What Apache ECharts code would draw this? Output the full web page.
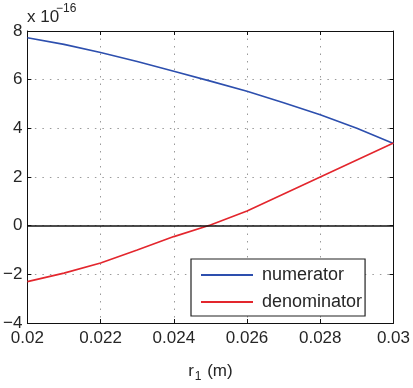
<!DOCTYPE html>
<html>
<head>
<meta charset="utf-8">
<script src="https://cdn.jsdelivr.net/npm/echarts@6/dist/echarts.min.js"></script>
<style>html,body{margin:0;padding:0;background:#fff}#c{width:413px;height:388px}</style>
</head>
<body>
<div id="c"></div>
<script>
// r_1 values (m)
const xValues = [0.020, 0.021, 0.022, 0.023, 0.024, 0.025, 0.026, 0.027, 0.028, 0.029, 0.030];
// values in units of 1e-16
const numerator   = [7.72, 7.45, 7.12, 6.75, 6.35, 5.94, 5.52, 5.05, 4.56, 4.00, 3.38];
const denominator = [-2.30, -1.95, -1.53, -1.00, -0.45, 0.03, 0.60, 1.30, 2.00, 2.70, 3.40];
const seriesNames = ['numerator', 'denominator'];
const xTickLabels = ['0.02', '0.022', '0.024', '0.026', '0.028', '0.03'];
const yTickLabels = ['−4', '−2', '0', '2', '4', '6', '8'];
const exponentBase = 'x 10';
const exponentPower = '−16';
const xName = ['r', '1', ' (m)'];

const txt = '#262626';
const font = 'Liberation Sans, Arial, Helvetica, sans-serif';
const grid = { left: 27, right: 19, top: 31, bottom: 59 };
const gridLine = { show: true, lineStyle: { color: '#9a9a9a', type: [1.5, 6], width: 1 } };

const chart = echarts.init(document.getElementById('c'), null, { renderer: 'canvas' });
chart.setOption({
  animation: false,
  backgroundColor: '#fff',
  textStyle: { fontFamily: font, color: txt },
  grid: grid,
  graphic: [
    { type: 'text', left: 27, top: 9, style: { text: exponentBase, font: '17px ' + font, fill: txt } },
    { type: 'text', left: 56, top: 3, style: { text: exponentPower, font: '12px ' + font, fill: txt } }
  ],
  legend: {
    orient: 'vertical', left: 191, top: 259,
    padding: [6, 3, 4, 10], itemGap: 7,
    icon: 'rect', itemWidth: 52, itemHeight: 2,
    backgroundColor: '#fff', borderColor: '#222', borderWidth: 1.2,
    textStyle: { fontSize: 18, color: txt, fontFamily: font, lineHeight: 20, padding: [0, 0, 0, 4] },
    data: seriesNames
  },
  xAxis: [{
    type: 'value', min: 0.02, max: 0.03, interval: 0.002,
    axisLine: { show: true, onZero: false, lineStyle: { color: '#111', width: 1 } },
    axisTick: { show: true, inside: true, length: 4, lineStyle: { color: '#111' } },
    axisLabel: { fontSize: 17, color: txt, margin: 7, fontFamily: font,
      formatter: function (v) { const i = Math.round((v - 0.02) / 0.002); return xTickLabels[i] !== undefined ? xTickLabels[i] : ''; } },
    splitLine: gridLine,
    name: '{r|' + xName[0] + '}{s|' + xName[1] + '}{t|' + xName[2] + '}',
    nameLocation: 'middle', nameGap: 36,
    nameTextStyle: { rich: {
      r: { fontSize: 17, color: txt, fontFamily: font },
      s: { fontSize: 12, color: txt, fontFamily: font, padding: [12, 1, 0, 1] },
      t: { fontSize: 17, color: txt, fontFamily: font }
    } }
  }, {
    type: 'value', position: 'top', min: 0.02, max: 0.03, interval: 0.002,
    axisLine: { show: true, onZero: false, lineStyle: { color: '#111', width: 1 } },
    axisTick: { show: true, inside: true, length: 4, lineStyle: { color: '#111' } },
    axisLabel: { show: false }, splitLine: { show: false }
  }],
  yAxis: [{
    type: 'value', min: -4, max: 8, interval: 2,
    axisLine: { show: true, onZero: false, lineStyle: { color: '#111', width: 1 } },
    axisTick: { show: true, inside: true, length: 4, lineStyle: { color: '#111' } },
    axisLabel: { fontSize: 17, color: txt, margin: 5, fontFamily: font, padding: [2, 0, 0, 0],
      formatter: function (v) { const i = Math.round((v + 4) / 2); return yTickLabels[i] !== undefined ? yTickLabels[i] : ''; } },
    splitLine: gridLine
  }, {
    type: 'value', position: 'right', min: -4, max: 8, interval: 2,
    axisLine: { show: true, onZero: false, lineStyle: { color: '#111', width: 1 } },
    axisTick: { show: true, inside: true, length: 4, lineStyle: { color: '#111' } },
    axisLabel: { show: false }, splitLine: { show: false }
  }],
  series: [{
    name: seriesNames[0], type: 'line', xAxisIndex: 0, yAxisIndex: 0,
    data: xValues.map((x, i) => [x, numerator[i]]),
    showSymbol: false, symbol: 'none', color: '#2d4fae',
    lineStyle: { width: 1.6, color: '#2d4fae' },
    markLine: { silent: true, symbol: 'none', label: { show: false },
      lineStyle: { color: '#111', width: 1.5, type: 'solid' }, data: [{ yAxis: 0 }] }
  }, {
    name: seriesNames[1], type: 'line', xAxisIndex: 0, yAxisIndex: 0,
    data: xValues.map((x, i) => [x, denominator[i]]),
    showSymbol: false, symbol: 'none', color: '#e3262d',
    lineStyle: { width: 1.6, color: '#e3262d' }
  }]
});
</script>
</body>
</html>
